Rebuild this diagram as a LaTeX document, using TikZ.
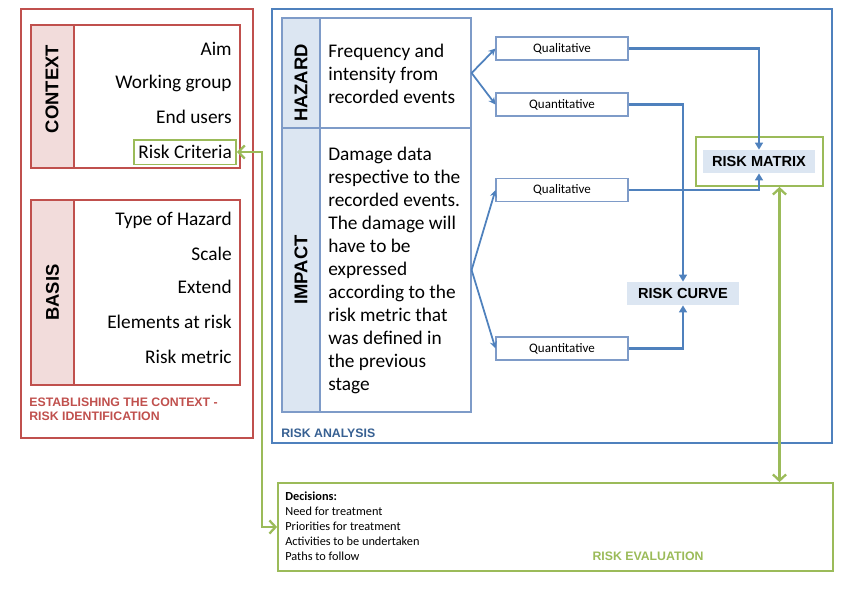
\documentclass[tikz,border=0pt]{standalone}
\usepackage{fontspec}
\setmainfont{Carlito}
\newfontfamily\labelfont{Liberation Sans}
\usepackage{xcolor}
\usepackage{tikz}
\usetikzlibrary{arrows.meta, positioning, calc, fit}

\definecolor{riskred}{HTML}{C0504D}
\definecolor{redfill}{HTML}{F2DCDB}
\definecolor{riskblue}{HTML}{4F81BD}
\definecolor{tableblue}{HTML}{7E9BC8}
\definecolor{bluefill}{HTML}{DCE6F2}
\definecolor{riskgreen}{HTML}{9BBB59}
\definecolor{analysisblue}{HTML}{376092}

\tikzset{
    redframe/.style={draw=riskred, line width=0.9pt, inner sep=0pt},
    redstrip/.style={redframe, fill=redfill},
    blueframe/.style={draw=riskblue, line width=1pt, inner sep=0pt},
    tablecell/.style={draw=tableblue, line width=0.7pt, inner sep=0pt},
    bluestrip/.style={tablecell, fill=bluefill},
    greenframe/.style={draw=riskgreen, line width=1pt, inner sep=0pt},
    striplabel/.style={font={\labelfont\bfseries\fontsize{10.5}{12}\selectfont}},
    phaselabel/.style={font={\labelfont\bfseries\fontsize{7}{8}\selectfont}, align=left, inner sep=0pt},
    bodytext/.style={font={\fontsize{11}{13.1}\selectfont}, inner sep=0pt},
    smalltext/.style={font={\fontsize{7}{8.6}\selectfont}, inner sep=0pt},
    methodbox/.style={draw=tableblue, line width=0.6pt, font={\fontsize{7.4}{8}\selectfont},
        minimum width=2.64cm, minimum height=0.46cm, inner sep=0pt},
    resultbox/.style={fill=bluefill, font={\labelfont\bfseries\fontsize{8.3}{10}\selectfont},
        minimum width=2.24cm, minimum height=0.46cm, inner sep=0pt},
    flowarrow/.style={draw=riskblue, line width=1pt, -{Stealth[length=4pt, width=4pt]}},
    linkarrow/.style={draw=riskblue, line width=1.3pt, -{Triangle[length=4pt, width=4.5pt]}},
    feedback/.style={draw=riskgreen, line width=1.3pt,
        {Straight Barb[length=3.5pt, width=7.5pt]}-{Straight Barb[length=3.5pt, width=7.5pt]}}
}

\begin{document}
\begin{tikzpicture}[x=0.02cm, y=-0.02cm]
    \useasboundingbox (0,0) rectangle (850,600);

    % Establishing the context
    \node[redframe, fit={(21,9) (253,438)}] (estab) {};
    \node[redframe, fit={(31,25) (240,168)}] (ctxbox) {};
    \node[redstrip, fit={(31,25) (74,168)}] (ctxstrip) {};
    \node[striplabel, rotate=90] (ctxlabel) at (52,89) {CONTEXT};
    \foreach \t/\y [count=\i] in {Aim/49, Working group/83, End users/117}
        \node[bodytext, anchor=east] (ctxitem\i) at (232,\y) {\t};
    \node[bodytext, anchor=east, draw=riskgreen, line width=0.9pt, inner xsep=2.5pt,
        minimum height=14pt] (crit) at (237,152) {Risk Criteria};

    \node[redframe, fit={(31,200) (240,385)}] (basisbox) {};
    \node[redstrip, fit={(31,200) (74,385)}] (basisstrip) {};
    \node[striplabel, rotate=90] (basislabel) at (basisstrip.center) {BASIS};
    \foreach \t/\y [count=\i] in {Type of Hazard/220, Scale/254, Extend/287, Elements at risk/322, Risk metric/357}
        \node[bodytext, anchor=east] (basisitem\i) at (232,\y) {\t};
    \node[phaselabel, riskred, anchor=west] (establabel) at (29,409) {ESTABLISHING THE CONTEXT -\\RISK IDENTIFICATION};

    % Risk analysis: hazard / impact table
    \node[blueframe, fit={(272,9) (832,443)}] (analysis) {};
    \node[bluestrip, fit={(282,18) (320,128)}] (hzstrip) {};
    \node[tablecell, fit={(320,18) (471,128)}] (hzcell) {};
    \node[bluestrip, fit={(282,128) (320,412)}] (imstrip) {};
    \node[tablecell, fit={(320,128) (471,412)}] (imcell) {};
    \node[striplabel, rotate=90] (hzlabel) at (301,83) {HAZARD};
    \node[striplabel, rotate=90] (imlabel) at (imstrip.center) {IMPACT};
    \node[bodytext, anchor=west, align=left] (hztext) at (328,73.5)
        {Frequency and\\intensity from\\recorded events};
    \node[bodytext, anchor=west, align=left] (imtext) at (328,270.5)
        {Damage data\\respective to the\\recorded events.\\The damage will\\have to be\\expressed\\according to the\\risk metric that\\was defined in\\the previous\\stage};
    \node[phaselabel, analysisblue, anchor=west] (analysislabel) at (281,433) {RISK ANALYSIS};

    % Qualitative / quantitative branches
    \foreach \n/\t/\y in {hzql/Qualitative/48.5, hzqt/Quantitative/104.5, imql/Qualitative/190, imqt/Quantitative/348.5}
        \node[methodbox] (\n) at (562,\y) {\t};
    \draw[flowarrow] (hzcell.east) -- (hzql.west);
    \draw[flowarrow] (hzcell.east) -- (hzqt.west);
    \draw[flowarrow] (imcell.east) -- (imql.west);
    \draw[flowarrow] (imcell.east) -- (imqt.west);

    % Results
    \node[resultbox] (matrix) at (759,161.5) {RISK MATRIX};
    \node[greenframe, fit={(696,137) (823,186)}] (mxframe) {};
    \node[resultbox] (curve) at (683,293.5) {RISK CURVE};
    \draw[linkarrow] (hzql.east) -| (matrix.north);
    \draw[linkarrow] (hzqt.east) -| (curve.north);
    \draw[linkarrow] (imql.east) -| (matrix.south);
    \draw[linkarrow] (imqt.east) -| (curve.south);

    % Risk evaluation
    \node[greenframe, fit={(278,483) (833,571)}] (evalbox) {};
    \node[smalltext, anchor=west, align=left] (decisions) at (285,526)
        {\textbf{Decisions:}\\Need for treatment\\Priorities for treatment\\Activities to be undertaken\\Paths to follow};
    \node[phaselabel, riskgreen] (evallabel) at (648,556) {RISK EVALUATION};
    \coordinate (mxlink) at ([xshift=0.4cm]mxframe.south);
    \draw[feedback] (mxlink) -- (mxlink |- evalbox.north);
    \draw[feedback] (crit.east) -- ++(25,0) |- (evalbox.west);
\end{tikzpicture}
\end{document}
